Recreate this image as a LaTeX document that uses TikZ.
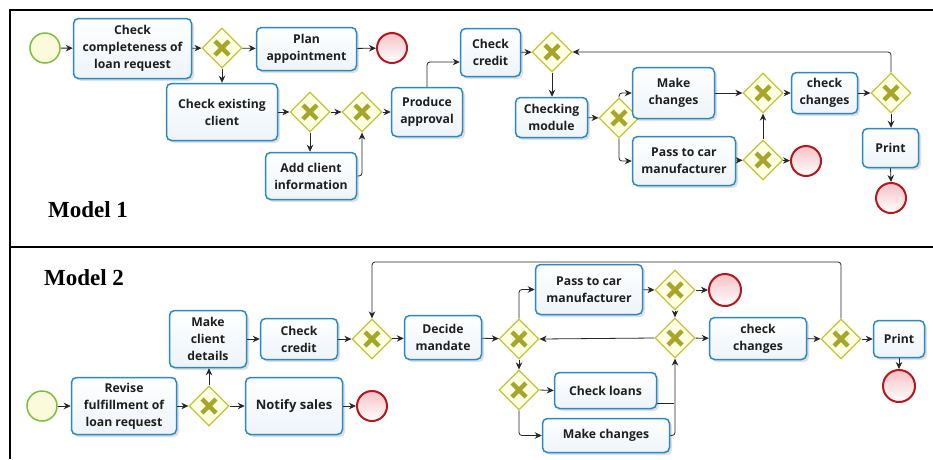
\documentclass[tikz,border=0pt]{standalone}
\usepackage{fontspec}
\setmainfont{Open Sans}
\newfontfamily\modelfont{Liberation Serif}
\usetikzlibrary{shapes.geometric,arrows.meta,shadows,calc}
\definecolor{boxblue}{HTML}{2B88C2}
\definecolor{boxfill}{HTML}{EDF4FA}
\definecolor{gwline}{HTML}{C4C43C}
\definecolor{gwfill}{HTML}{FFFFE4}
\definecolor{gwx}{HTML}{A6A62A}
\definecolor{endline}{HTML}{B7161C}
\definecolor{endfill}{HTML}{F5C2C6}
\definecolor{startline}{HTML}{7DBE3E}
\definecolor{startfill}{HTML}{FBFBDC}
\definecolor{txt}{HTML}{1E1E1E}
\begin{document}
\begin{tikzpicture}[x=1pt,y=-1pt,
  task/.style={rectangle, rounded corners=5pt, draw=boxblue, line width=1.5pt,
    top color=white, bottom color=boxfill, align=center,
    font=\bfseries\fontsize{12.2}{17}\selectfont, text=txt, inner sep=0pt,
    drop shadow={shadow xshift=2.5pt, shadow yshift=-2.5pt, fill=black, opacity=0.12}},
  gw/.style={diamond, draw=gwline, line width=1.3pt, fill=gwfill,
    minimum width=40pt, minimum height=40pt, inner sep=0pt,
    path picture={
      \draw[gwx, line width=4.5pt]
        ($(path picture bounding box.center)+(-7,-7)$) -- ($(path picture bounding box.center)+(7,7)$)
        ($(path picture bounding box.center)+(-7,7)$) -- ($(path picture bounding box.center)+(7,-7)$);}},
  startev/.style={circle, draw=startline, line width=1.5pt, fill=startfill,
    minimum size=30pt, inner sep=0pt},
  endev/.style={circle, draw=endline, line width=2pt, top color=endfill,
    bottom color=white, minimum size=30pt, inner sep=0pt},
  flow/.style={draw=black!85, line width=0.8pt, -{Stealth[length=7pt,width=6.5pt]},
    rounded corners=3pt},
  plainflow/.style={draw=black!85, line width=0.8pt, rounded corners=3pt},
  frame/.style={line width=2.5pt, black},
  modellabel/.style={font=\modelfont\bfseries\fontsize{23}{26}\selectfont, inner sep=0pt}
]
\useasboundingbox (0,0) rectangle (933,459);
\fill[white] (0,0) rectangle (933,459);

% frame
\draw[frame] (10,459) -- (10,10) -- (933,10);
\draw[frame] (10,247) -- (933,247);

% ================= Model 1 =================
\node[modellabel] (m1) at (88,210) {Model 1};

\node[startev] (s1) at (45,48) {};
\node[task, minimum width=118pt, minimum height=60pt] (t1) at (132.5,48.5) {Check\\completeness of\\loan request};
\node[gw] (g1) at (222,48) {};
\node[task, minimum width=100pt, minimum height=43pt] (t2) at (306.5,49) {Plan\\appointment};
\node[endev] (e1) at (392,48) {};
\node[task, minimum width=111pt, minimum height=57pt] (t3) at (222,112) {Check existing\\client};
\node[gw] (g2) at (310,112) {};
\node[task, minimum width=91pt, minimum height=47pt] (t4) at (311,176) {Add client\\information};
\node[gw] (g3) at (362,112) {};
\node[task, minimum width=71pt, minimum height=49pt] (t5) at (427,112) {Produce\\approval};
\node[task, minimum width=60pt, minimum height=48pt] (t6) at (490.5,52.5) {Check\\credit};
\node[gw] (g4) at (552,52) {};
\node[task, minimum width=72pt, minimum height=40pt] (t7) at (551.5,117.5) {Checking\\module};
\node[gw] (g5) at (619,118) {};
\node[task, minimum width=82pt, minimum height=51pt] (t8) at (673.5,93) {Make\\changes};
\node[task, minimum width=103pt, minimum height=49pt] (t9) at (684,161) {Pass to car\\manufacturer};
\node[gw] (g6) at (763,160) {};
\node[endev] (e2) at (806,161) {};
\node[gw] (g7) at (763,93) {};
\node[task, minimum width=66pt, minimum height=41pt] (t10) at (824.5,93) {check\\changes};
\node[gw] (g8) at (891,93) {};
\node[task, minimum width=56pt, minimum height=39pt] (t11) at (890.5,148) {Print};
\node[endev] (e3) at (891,198) {};

\coordinate (k1) at (427,62);
\coordinate (k2) at (490,62);

\draw[flow] (s1) -- (t1);
\draw[flow] (t1) -- (g1);
\draw[flow] (g1) -- (t2);
\draw[flow] (t2) -- (e1);
\draw[flow] (g1.south) -- (g1.south |- t3.north);
\draw[flow] (t3) -- (g2);
\draw[flow] (g2) -- (g3);
\draw[flow] (g2.south) -- (g2.south |- t4.north);
\draw[flow] (t4.east) -| (g3.south);
\draw[flow] (g3) -- (t5);
\draw[flow] (t5.north) |- (k2 -| t6.west);
\draw[flow] (t6) -- (g4);
\draw[flow] (g4.south) -- (g4.south |- t7.north);
\draw[flow] (t7) -- (g5);
\draw[flow] (g5.north) |- (t8.west);
\draw[flow] (g5.south) |- (t9.west);
\draw[flow] (t8) -- (g7);
\draw[flow] (t9) -- (g6);
\draw[flow] (g6) -- (e2);
\draw[flow] (g6.north) -- (g7.south);
\draw[flow] (g7) -- (t10);
\draw[flow] (t10) -- (g8);
\draw[flow] (g8.south) -- (g8.south |- t11.north);
\draw[flow] (t11.south) -- (e3.north);
\draw[flow] (g8.north) |- (g4.east);

% ================= Model 2 =================
\node[modellabel] (m2) at (84,278) {Model 2};

\node[startev] (s2) at (42,406) {};
\node[task, minimum width=105pt, minimum height=57pt] (b1) at (124,406) {Revise\\fulfillment of\\loan request};
\node[gw] (h1) at (209,406) {};
\node[task, minimum width=77pt, minimum height=57pt] (b2) at (208,339) {Make\\client\\details};
\node[task, minimum width=97pt, minimum height=57pt, font=\bfseries\fontsize{13}{17}\selectfont] (b3) at (294,406) {Notify sales};
\node[endev] (e4) at (372,406) {};
\node[task, minimum width=77pt, minimum height=41pt] (b4) at (299,339) {Check\\credit};
\node[gw] (h2) at (372,339) {};
\node[task, minimum width=77pt, minimum height=44pt] (b5) at (443,337.5) {Decide\\mandate};
\node[gw] (h3) at (519,339) {};
\node[gw] (h4) at (519,390) {};
\node[task, minimum width=107pt, minimum height=50pt] (b6) at (589,289.5) {Pass to car\\manufacturer};
\node[gw] (h5) at (675,290) {};
\node[endev, minimum size=32pt] (e5) at (725,290) {};
\node[gw] (h6) at (675,338) {};
\node[task, minimum width=102pt, minimum height=36pt] (b7) at (605.5,390.5) {Check loans};
\node[task, minimum width=127pt, minimum height=34pt] (b8) at (606,435.5) {Make changes};
\node[task, minimum width=97pt, minimum height=42pt] (b9) at (758,338.5) {check\\changes};
\node[gw] (h7) at (841,339) {};
\node[task, minimum width=51pt, minimum height=37pt] (b10) at (899,339) {Print};
\node[endev, minimum size=32pt] (e6) at (899,386) {};

\coordinate (loop2) at (372,262);
\coordinate (cl) at (674,403);

\draw[flow] (s2) -- (b1);
\draw[flow] (b1) -- (h1);
\draw[flow] (h1) -- (b3);
\draw[flow] (b3) -- (e4);
\draw[flow] (h1.north) -- (h1.north |- b2.south);
\draw[flow] (b2) -- (b4);
\draw[flow] (b4) -- (h2);
\draw[flow] (h2) -- (b5);
\draw[flow] (b5) -- (h3);
\draw[flow] (h3.south) -- (h4.north);
\draw[flow] (h3.north) |- (b6.west);
\draw[flow] (h6.west) -- (h3.east);
\draw[flow] (h4.east) -- (b7.west);
\draw[flow] (h4.south) |- (b8.west);
\draw[plainflow] (b7.east |- cl) -- (cl);
\draw[flow] (b8.east) -| (h6.south);
\draw[flow] (b6) -- (h5);
\draw[flow] (h5) -- (e5);
\draw[flow] (h5.south) -- (h6.north);
\draw[flow] (h6) -- (b9);
\draw[flow] (b9) -- (h7);
\draw[flow] (h7) -- (b10);
\draw[flow] (b10.south) -- (e6.north);
\draw[flow] (h7.north) |- (loop2) -- (h2.north);
\end{tikzpicture}
\end{document}
